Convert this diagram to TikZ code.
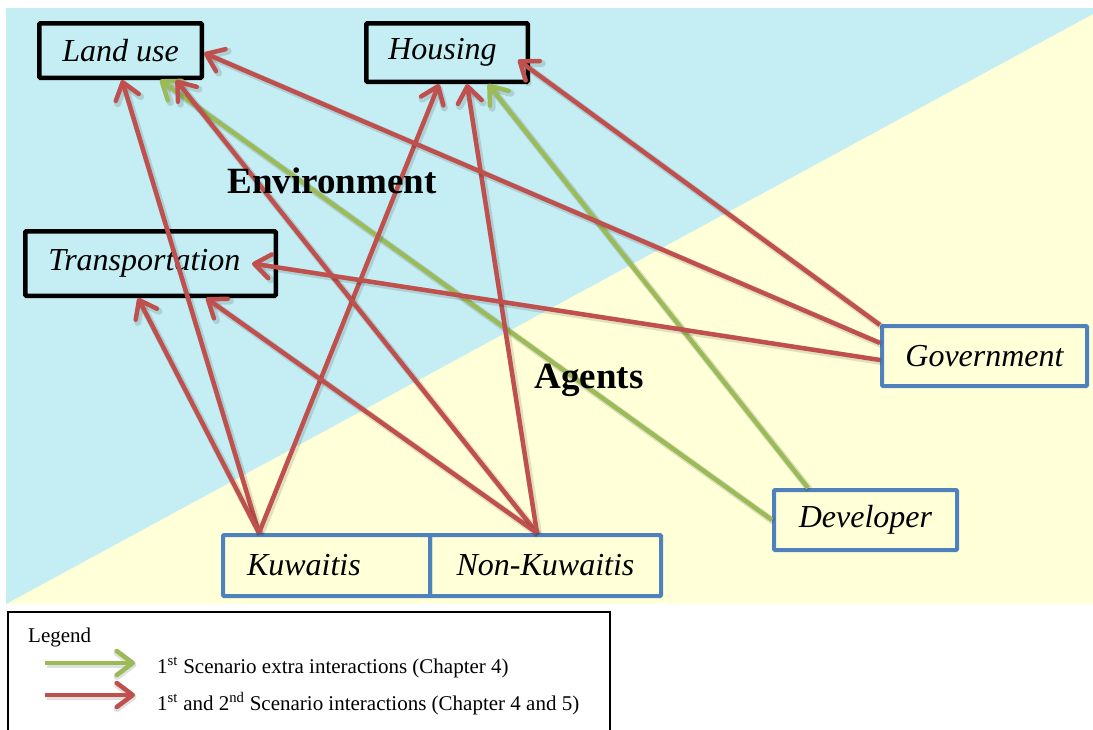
\documentclass[tikz,border=0pt]{standalone}
\usepackage{fontspec}
\setmainfont{Liberation Serif}
\usetikzlibrary{arrows.meta,calc}
\definecolor{arrred}{RGB}{192,80,77}
\definecolor{arrgreen}{RGB}{155,187,89}
\definecolor{agentblue}{RGB}{79,129,189}
\definecolor{envcyan}{RGB}{196,238,243}
\definecolor{agentyellow}{RGB}{255,255,216}
\begin{document}
\begin{tikzpicture}[x=1pt,y=-1pt,
  boxfont/.style={font=\fontsize{32}{37}\selectfont\itshape},
  envbox/.style={boxfont, draw=black, line width=4.5pt, rounded corners=1pt, inner sep=0pt},
  agentbox/.style={boxfont, draw=agentblue, line width=4pt, rounded corners=1pt, inner sep=0pt},
  link/.style={line width=4.5pt, -{Straight Barb[length=16pt,width=24pt,round]},
    preaction={draw=black, opacity=0.12, line width=7pt,
      transform canvas={shift={(1.5pt,-1.5pt)}}}},
  redlink/.style={link, draw=arrred},
  greenlink/.style={link, draw=arrgreen},
  title/.style={font=\fontsize{37}{44}\selectfont\bfseries, anchor=base, inner sep=0pt},
  legendtext/.style={font=\fontsize{21}{25}\selectfont, anchor=base west, inner sep=0pt},
  legendframe/.style={draw=black, line width=2.5pt, fill=white},
]
\useasboundingbox (0,0) rectangle (1093,729);

% two-tone backdrop: environment (upper left) and agents (lower right)
\fill[agentyellow] (6,8) rectangle (1093,604);
\fill[envcyan] (6,8) -- (1093,8) -- (1093,14) -- (6,604) -- cycle;

% environment boxes
\node[envbox, minimum width=162.5pt, minimum height=54.5pt] (landuse) at (120.5,50.5) {Land use};
\node[envbox, text width=143.5pt, inner xsep=9pt, align=left, minimum height=58.5pt] (housing) at (447,52.5) {\hspace*{13pt}Housing};
\node[envbox, text width=234.5pt, inner xsep=8pt, align=left, minimum height=64.5pt] (transport) at (150.5,263.5) {\hspace*{15pt}Transportation};

% agent boxes
\node[agentbox, minimum width=205pt, minimum height=60pt] (gov) at (984.5,356) {Government};
\node[agentbox, minimum width=183pt, minimum height=60pt] (developer) at (865.5,520) {Developer};
\node[agentbox, text width=159pt, inner xsep=24pt, align=left, minimum height=61pt] (kuwaitis) at (326.5,565.5) {Kuwaitis};
\node[agentbox, minimum width=231pt, minimum height=61pt] (nonkuwaitis) at (545.5,565.5) {Non-Kuwaitis};

% first scenario extra interactions
\draw[greenlink] (developer.west) -- ([xshift=39.5pt]landuse.south);
\draw[greenlink] ([xshift=-57.5pt]developer.north) -- ([xshift=41pt]housing.south);

% interactions of both scenarios
\draw[redlink] ([xshift=-67.5pt]kuwaitis.north) -- ([xshift=1.5pt]landuse.south);
\draw[redlink] ([xshift=-67.5pt]kuwaitis.north) -- ([xshift=-12.5pt]transport.south);
\draw[redlink] ([xshift=-67.5pt]kuwaitis.north) -- ([xshift=-8pt]housing.south);
\draw[redlink] ([xshift=-8.5pt]nonkuwaitis.north) -- ([xshift=55.5pt]landuse.south);
\draw[redlink] ([xshift=-8.5pt]nonkuwaitis.north) -- ([xshift=55.5pt]transport.south);
\draw[redlink] ([xshift=-8.5pt]nonkuwaitis.north) -- ([xshift=20pt]housing.south);
\draw[redlink] ([yshift=31pt]gov.west) -- ([xshift=-12pt,yshift=-7.5pt]housing.east);
\draw[redlink] ([yshift=13pt]gov.west) -- ([yshift=-2.5pt]landuse.east);
\draw[redlink] ([yshift=-4pt]gov.west) -- ([xshift=-26pt]transport.east);

% region titles
\node[title] (envlabel) at (332,193) {Environment};
\node[title] (agentslabel) at (589,388) {Agents};

% legend
\draw[legendframe] (8,612) rectangle (610,760);
\node[legendtext] (legendtitle) at (28,642) {Legend};
\coordinate (gstart) at (45,663);
\coordinate (gend) at (135,663);
\coordinate (rstart) at (45,695);
\coordinate (rend) at (135,695);
\draw[greenlink] (gstart) -- (gend);
\draw[redlink] (rstart) -- (rend);
\node[legendtext] (greentext) at (157,673) {1\textsuperscript{st} Scenario extra interactions (Chapter 4)};
\node[legendtext] (redtext) at (157,710) {1\textsuperscript{st} and 2\textsuperscript{nd} Scenario interactions (Chapter 4 and 5)};
\end{tikzpicture}
\end{document}
